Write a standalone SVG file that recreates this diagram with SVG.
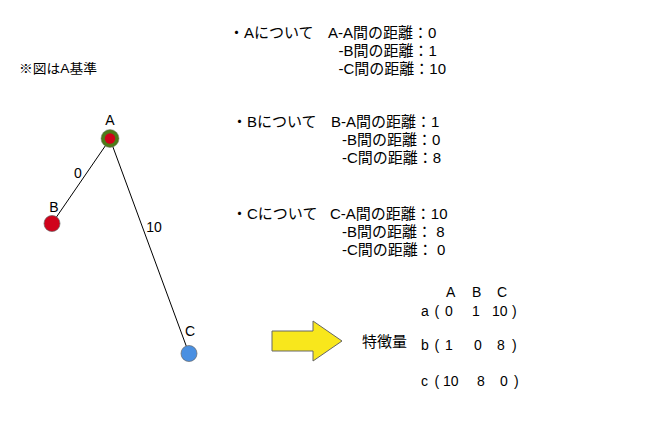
<svg xmlns="http://www.w3.org/2000/svg" width="662" height="448" viewBox="0 0 662 448">
<style>
text{font-family:"Liberation Sans","Noto Sans CJK JP",sans-serif;font-size:14px;fill:#000}
.big{font-size:15px}
.note{font-size:13px}
.edge{stroke:#000;stroke-width:1;fill:none}
</style>
<rect width="662" height="448" fill="#fff"/>
<text class="note" x="19" y="73" textLength="78" lengthAdjust="spacingAndGlyphs">※図はA基準</text>
<g id="connectors">
<line class="edge" x1="110" y1="139" x2="52" y2="223.5"/>
<line class="edge" x1="110" y1="139" x2="189" y2="353.5"/>
<text x="78" y="178" text-anchor="middle">0</text>
<text x="154" y="231.5" text-anchor="middle">10</text>
</g>
<g id="nodeA">
<circle cx="110" cy="138.5" r="9" fill="#4e7b18" stroke="#777" stroke-width="0.5"/>
<circle cx="110" cy="138.5" r="5.2" fill="#d0021b"/>
<text x="110" y="125" text-anchor="middle">A</text>
</g>
<g id="nodeB">
<circle cx="52" cy="223.5" r="8" fill="#d0021b" stroke="#666" stroke-width="0.7"/>
<text x="54" y="211.5" text-anchor="middle">B</text>
</g>
<g id="nodeC">
<circle cx="189" cy="353.5" r="8" fill="#4a90e2" stroke="#666" stroke-width="0.7"/>
<text x="190" y="336" text-anchor="middle">C</text>
</g>
<g id="textA">
<text class="big" x="229" y="37.5">・Aについて</text>
<text class="big" x="328" y="37.5">A-A間の距離：0</text>
<text class="big" x="338.5" y="55.5">-B間の距離：1</text>
<text class="big" x="338.5" y="73.5">-C間の距離：10</text>
</g>
<g id="textB">
<text class="big" x="232" y="126.5">・Bについて</text>
<text class="big" x="331" y="126.5">B-A間の距離：1</text>
<text class="big" x="342" y="144.5">-B間の距離：0</text>
<text class="big" x="342" y="162.5">-C間の距離：8</text>
</g>
<g id="textC">
<text class="big" x="232" y="218.5">・Cについて</text>
<text class="big" x="330" y="218.5">C-A間の距離：10</text>
<text class="big" x="342" y="236.5">-B間の距離： 8</text>
<text class="big" x="342" y="254.5">-C間の距離： 0</text>
</g>
<g id="arrow">
<polygon points="272,331 313,331 313,321 342,341 313,361 313,351 272,351" fill="#f8e71c" stroke="#666" stroke-width="1"/>
</g>
<g id="feature">
<text class="big" x="362" y="347">特徴量</text>
</g>
<g id="matrix">
<text y="297"><tspan x="446">A</tspan><tspan x="472">B</tspan><tspan x="497">C</tspan></text>
<text y="316"><tspan x="421">a</tspan><tspan x="434.5">(</tspan><tspan x="445">0</tspan><tspan x="472">1</tspan><tspan x="492">10</tspan><tspan x="512">)</tspan></text>
<text y="350"><tspan x="421">b</tspan><tspan x="434.5">(</tspan><tspan x="445">1</tspan><tspan x="474">0</tspan><tspan x="497">8</tspan><tspan x="512">)</tspan></text>
<text y="386"><tspan x="421">c</tspan><tspan x="434.5">(</tspan><tspan x="443">10</tspan><tspan x="477">8</tspan><tspan x="500">0</tspan><tspan x="514">)</tspan></text>
</g>
</svg>
